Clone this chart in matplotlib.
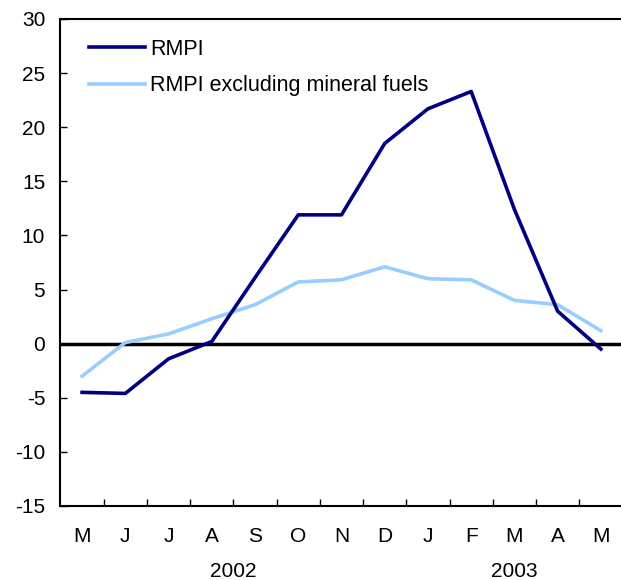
import numpy as np
import matplotlib
matplotlib.use('Agg')
from matplotlib import pyplot as plt
from matplotlib.ticker import MultipleLocator, FixedLocator

plt.rcParams['font.family'] = ['Liberation Sans', 'DejaVu Sans']
plt.rcParams['axes.unicode_minus'] = False

months = ['M', 'J', 'J', 'A', 'S', 'O', 'N', 'D', 'J', 'F', 'M', 'A', 'M']
rmpi = [-4.5, -4.6, -1.4, 0.2, 6.1, 11.9, 11.9, 18.5, 21.7, 23.3, 12.4, 3.0, -0.5]
rmpi_ex = [-3.0, 0.1, 0.9, 2.3, 3.6, 5.7, 5.9, 7.1, 6.0, 5.9, 4.0, 3.6, 1.2]
years = ['2002', '2003']
year_pos = [3.5, 10.0]

fig = plt.figure(figsize=(6.21, 5.8), dpi=100)
ax = fig.add_axes([0.0974, 0.1276, 0.905, 0.8397])

x = np.arange(len(months))
ax.axhline(0, color='black', lw=2.5, zorder=1)
ax.plot(x, rmpi, color='#000080', lw=2.6, label='RMPI', zorder=3)
ax.plot(x, rmpi_ex, color='#99CCFF', lw=2.6, label='RMPI excluding mineral fuels', zorder=2)

ax.set_xlim(-0.5, 12.5)
ax.set_ylim(-15, 30)
ax.yaxis.set_major_locator(MultipleLocator(5))
ax.set_xticks(x)
ax.set_xticklabels(months)
ax.xaxis.set_minor_locator(FixedLocator(np.arange(0.5, 12, 1)))
ax.tick_params(axis='x', which='major', length=0, pad=15, labelsize=15)
ax.tick_params(axis='x', which='minor', direction='in', length=5, width=1)
ax.tick_params(axis='y', direction='in', length=5, width=1, pad=11, labelsize=15)

for s in ax.spines.values():
    s.set_linewidth(1.5)
ax.spines['right'].set_visible(False)

# year labels under the month row
for yr, xp in zip(years, year_pos):
    ax.text(xp, -0.134, yr, transform=ax.get_xaxis_transform(), ha='center', va='center', fontsize=15)

ax.legend(loc='upper left', frameon=False, fontsize=15.5, handlelength=2.6,
          handletextpad=0.25, labelspacing=0.72, bbox_to_anchor=(0.0155, 0.999))

fig.savefig('out.png', dpi=100)
